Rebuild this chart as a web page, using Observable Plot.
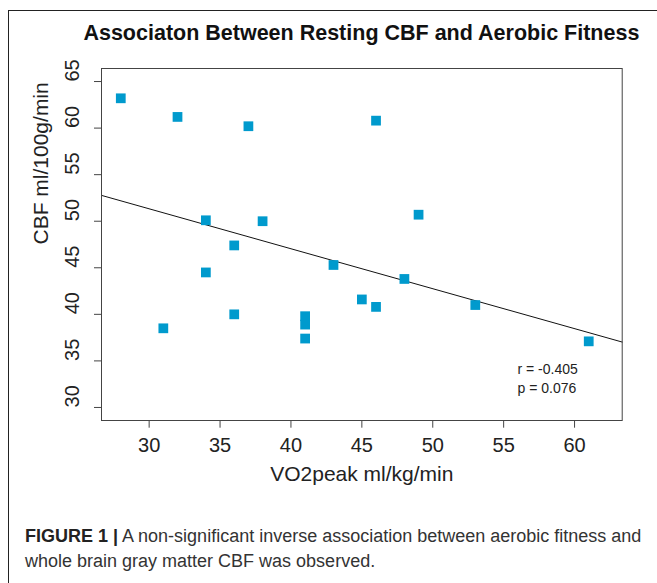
<!DOCTYPE html>
<html>
<head>
<meta charset="utf-8">
<script src="https://cdn.jsdelivr.net/npm/d3@7"></script>
<script src="https://cdn.jsdelivr.net/npm/@observablehq/plot@0.6"></script>
<style>
  html, body { margin: 0; padding: 0; background: #fff; }
  #wrap { position: relative; width: 657px; height: 583px; overflow: hidden; background: #fff; font-family: "Liberation Sans", Arial, sans-serif; }
  #border { position: absolute; left: 8px; top: 10px; width: 700px; height: 700px; border-left: 1.3px solid #222; border-top: 1.3px solid #222; }
  #chart { position: absolute; left: 0; top: 0; }
  #title { position: absolute; left: 361.4px; top: 22.6px; transform: translateX(-50%); white-space: nowrap; font-weight: bold; font-size: 21.5px; line-height: 21.5px; color: #111; }
  #caption { position: absolute; left: 25px; top: 523.7px; white-space: nowrap; font-size: 18px; line-height: 25px; color: #333; }
  #caption b { color: #222; }
</style>
</head>
<body>
<div id="wrap">
  <div id="border"></div>
  <div id="chart"></div>
  <div id="title"></div>
  <div id="caption"></div>
</div>
<script>
// ---- data ----
const vo2peak = [28, 32, 37, 46, 34, 38, 36, 34, 31, 36, 41, 41, 41, 43, 45, 46, 48, 49, 53, 61];
const cbf = [63.2, 61.2, 60.2, 60.8, 50.1, 50.0, 47.4, 44.5, 38.5, 40.0, 39.8, 38.9, 37.4, 45.3, 41.6, 40.8, 43.8, 50.7, 41.0, 37.1];
const xLimits = [28, 62];
const yLimits = [30, 65];
const xTicks = [30, 35, 40, 45, 50, 55, 60];
const yTicks = [30, 35, 40, 45, 50, 55, 60, 65];
const statsLines = ["r = -0.405", "p = 0.076"];
const titleText = "Associaton Between Resting CBF and Aerobic Fitness";
const xLabel = "VO2peak ml/kg/min";
const yLabel = "CBF ml/100g/min";
const captionBold = "FIGURE 1 |";
const captionLines = ["A non-significant inverse association between aerobic fitness and", "whole brain gray matter CBF was observed."];

// ---- derived ----
const points = vo2peak.map((x, i) => ({x, y: cbf[i]}));
// R-style 4% axis extension
const ext = ([a, b]) => [a - 0.04 * (b - a), b + 0.04 * (b - a)];
const xDomain = ext(xLimits);
const yDomain = ext(yLimits);
// least-squares fit across full plotting region (abline)
const mx = d3.mean(vo2peak), my = d3.mean(cbf);
const sxy = d3.sum(points, d => (d.x - mx) * (d.y - my));
const sxx = d3.sum(points, d => (d.x - mx) ** 2);
const slope = sxy / sxx, intercept = my - slope * mx;
const fitLine = xDomain.map(x => ({x, y: intercept + slope * x}));

const W = 657, H = 500;
const chart = Plot.plot({
  width: W,
  height: H,
  marginLeft: 101,
  marginRight: 35.3,
  marginTop: 68,
  marginBottom: 80,
  style: {fontFamily: "'Liberation Sans', Arial, sans-serif", background: "transparent", color: "#222"},
  x: {domain: xDomain, axis: null},
  y: {domain: yDomain, axis: null},
  marks: [
    Plot.axisX(xTicks, {tickSize: 7.7, tickPadding: 9.6, fontSize: 20, label: null, stroke: "#444", fill: "#222"}),
    Plot.axisY(yTicks, {tickSize: 7, fill: "none", stroke: "#444", label: null}),
    Plot.text(yTicks, {y: d => d, text: d => String(d), frameAnchor: "left", dx: -28.5, rotate: -90, fontSize: 20, fill: "#222"}),
    Plot.line(fitLine, {x: "x", y: "y", stroke: "#111", strokeWidth: 1}),
    Plot.dot(points, {x: "x", y: "y", symbol: "square", r: 5.5, fill: "#009ACD", stroke: "none"}),
    Plot.frame({stroke: "#444", strokeWidth: 1}),
    Plot.text([statsLines.join("\n")], {frameAnchor: "bottom-right", dx: -104.7, dy: -28, textAnchor: "start", lineAnchor: "bottom", lineHeight: 1.31, fontSize: 14, fill: "#222"}),
    Plot.text([xLabel], {frameAnchor: "bottom", dy: 60, fontSize: 21, fill: "#222"}),
    Plot.text([yLabel], {frameAnchor: "left", dx: -60, rotate: -90, fontSize: 21, fill: "#222"})
  ]
});
document.getElementById("chart").appendChild(chart);
document.getElementById("title").textContent = titleText;
const cap = document.getElementById("caption");
const b = document.createElement("b");
b.textContent = captionBold;
cap.appendChild(b);
cap.appendChild(document.createTextNode(" " + captionLines[0]));
cap.appendChild(document.createElement("br"));
cap.appendChild(document.createTextNode(captionLines[1]));
</script>
</body>
</html>
